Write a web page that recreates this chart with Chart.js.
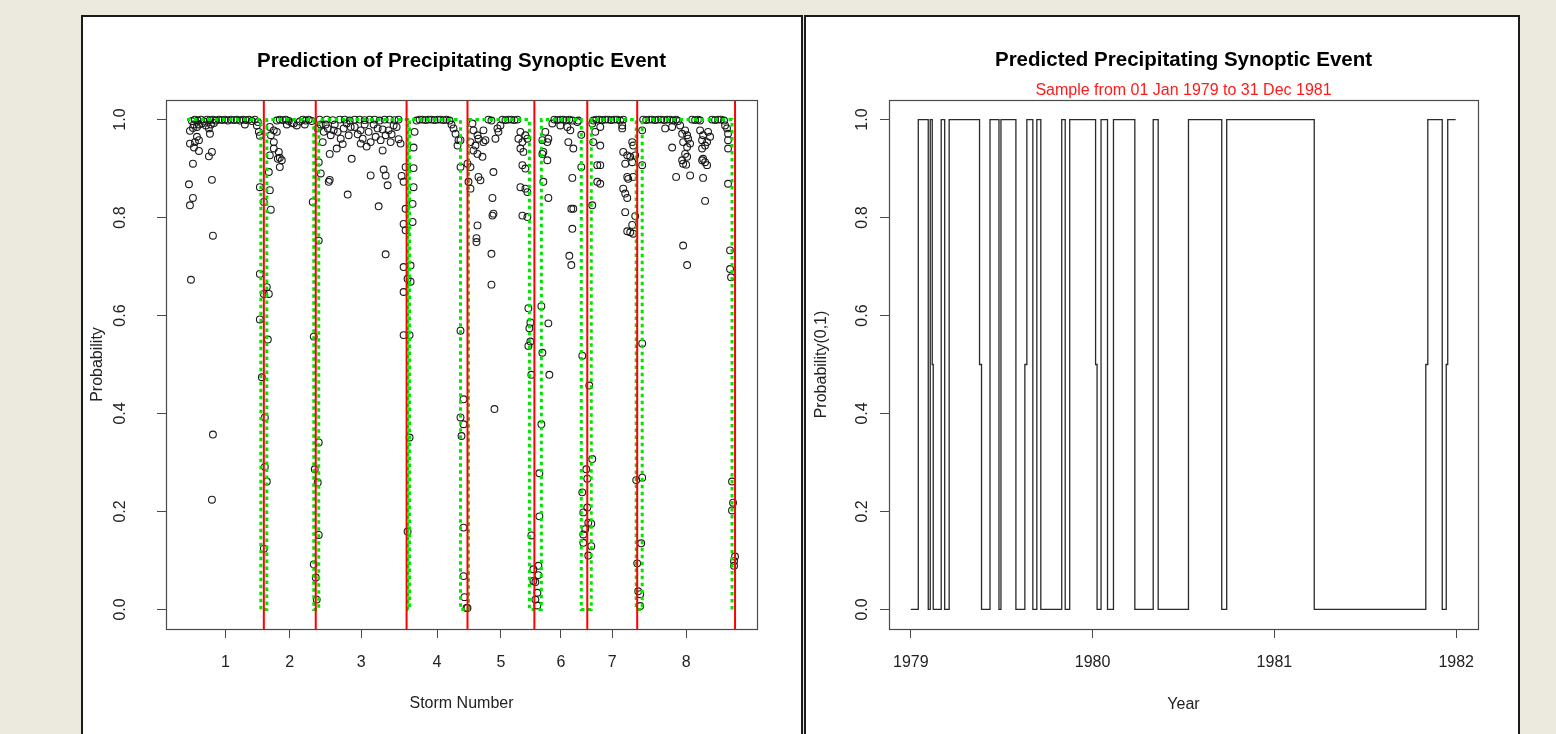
<!DOCTYPE html>
<html>
<head>
<meta charset="utf-8">
<title>Precipitating Synoptic Event</title>
<script src="https://cdn.jsdelivr.net/npm/chart.js@4.4.1/dist/chart.umd.min.js"></script>
<style>
  html, body { margin: 0; padding: 0; }
  body { width: 1556px; height: 734px; background: #ece9df; position: relative; overflow: hidden; }
  .panel { position: absolute; top: 15px; height: 740px; background: #fff; border: 2px solid #1b1b1b; box-sizing: border-box; }
  #leftPanel { left: 81px; width: 722px; }
  #rightPanel { left: 804px; width: 716px; }
  canvas { position: absolute; top: 17px; }
  #stormChart { left: 83px; }
  #yearChart { left: 806px; }
</style>
</head>
<body>
<div class="panel" id="leftPanel"></div>
<div class="panel" id="rightPanel"></div>
<canvas id="stormChart" width="718" height="717"></canvas>
<canvas id="yearChart" width="712" height="717"></canvas>

<script>
// ---------------------------------------------------------
// Left panel: predicted probability per observation, by storm
// x = observation index, y = probability
// ---------------------------------------------------------
const storm1 = [
  [5,0.997],[8,1],[11,0.998],[14,1],[17,0.996],[20,1],[23,0.999],[26,1],[29,0.998],[32,1],[35,0.999],[38,1],
  [41,0.998],[44,1],[47,0.999],[50,1],[53,0.998],[56,1],[59,0.999],[62,1],[65,0.997],[68,1],[71,0.995],
  [7,0.99],[10,0.985],[15,0.992],[19,0.988],[24,0.99],[27,0.993],
  [3,0.977],[6,0.983],[12,0.990],[10,0.965],[12,0.958],[8,0.954],[3,0.951],[7,0.943],[12,0.936],[23,0.971],
  [22,0.982],[25,0.934],[22,0.925],[6,0.910],[25,0.877],[2,0.868],[6,0.840],[3,0.825],[26,0.763],[4,0.673],
  [26,0.357],[25,0.224],[58,0.990],[70,0.988],[72,0.975],[73,0.967],[73,0.862],[73,0.685],[73,0.592],[75,0.474]
];
const storm2 = [
  [78,0.392],[78,0.291],[80,0.261],[77,0.124],[81,0.551],[80,0.658],[82,0.644],[77,0.644],[77,0.832],
  [83,0.985],[87,0.978],[90,0.975],[87,0.954],[87,0.941],[83,0.927],[92,0.934],[93,0.922],[95,0.917],
  [93,0.903],[82,0.893],[83,0.856],[84,0.816],[84,0.968],[91,0.920],[107,0.992],[110,0.988],[126,0.832],
  [90,0.998],[93,1],[96,0.999],[99,1],[102,0.997],[105,0.993],[113,0.996],[116,1],[119,0.998],[122,1],
  [125,0.997],[100,0.99],[118,0.99],
  [127,0.557],[132,0.341],[128,0.286],[131,0.259],[132,0.152],[127,0.092],[129,0.065],[130,0.020],
  [132,0.753],[132,0.913],[134,0.890],[131,0.982],[136,0.954]
];
const storm3 = [
  [137,0.975],[141,0.982],[144,0.968],[147,0.978],[151,0.975],[154,0.961],[157,0.982],[162,0.968],[164,0.985],
  [174,0.978],[176,0.961],[174,0.951],[182,0.975],[184,0.954],[191,0.982],[194,0.958],[196,0.937],[199,0.968],
  [202,0.978],[204,0.954],[207,0.988],[214,0.951],[143,0.930],[150,0.941],[165,0.920],[142,0.873],[143,0.877],
  [184,0.886],[197,0.898],[199,0.886],[201,0.866],[161,0.847],[192,0.823],[199,0.725],[215,0.885],[217,0.873],
  [219,0.903],[139,0.99],[148,0.99],[160,0.992],[168,0.985],[171,0.97],[178,0.99],[187,0.99],[189,0.965],
  [205,0.97],[210,0.985],[212,0.96],[134,0.99],[156,0.95],[180,0.945],[196,0.98],
  [133,1],[140,1],[146,0.999],[153,1],[158,1],[163,0.998],[168,1],[173,1],[178,0.999],[183,1],[188,1],
  [193,0.998],[198,1],[203,1],[208,0.999],[212,1],
  [219,0.818],[217,0.787],[219,0.774],[217,0.699],[221,0.675],[224,0.669],[217,0.648],[224,0.702],[226,0.791],
  [226,0.828],[227,0.862],[227,0.901],[227,0.943],[228,0.975],[217,0.560],[223,0.560],[223,0.351],[221,0.159]
];
const storm4 = [
  [230,0.998],[233,1],[236,1],[239,0.999],[242,1],[245,1],[248,0.999],[251,1],[254,1],[257,0.999],[260,1],
  [263,0.998],[265,0.99],[267,0.982],[269,0.971],[271,0.947],[274,0.903],[272,0.958],[274,0.958],
  [274,0.569],[277,0.429],[274,0.392],[277,0.378],[275,0.354],[277,0.167],[277,0.068],[278,0.025],
  [280,0.003],[281,0.003]
];
const storm5 = [
  [286,0.992],[287,0.978],[291,0.968],[284,0.954],[289,0.947],[287,0.937],[291,0.930],[296,0.924],[292,0.961],
  [297,0.978],[299,0.958],[297,0.954],[302,1],[305,0.998],[281,0.910],[284,0.903],[282,0.873],[284,0.859],
  [292,0.883],[294,0.876],[307,0.893],[306,0.840],[307,0.808],[306,0.804],[291,0.784],[290,0.758],[290,0.750],
  [305,0.726],[305,0.663],[308,0.409],[311,0.982],[309,0.961],[312,0.975],[314,0.988],
  [316,1],[319,0.999],[322,1],[325,1],[328,0.999],[331,1],
  [334,0.975],[332,0.961],[336,0.954],[334,0.941],[337,0.934],[336,0.907],[339,0.900],[334,0.862],[339,0.859],
  [341,0.852],[336,0.804],[341,0.801],[339,0.968],[341,0.961],
  [342,0.615],[344,0.586],[343,0.574],[344,0.547],[342,0.538],[345,0.479],[355,0.619],[362,0.584],[356,0.524],
  [363,0.479],[355,0.378],[353,0.278],[353,0.190],[345,0.151],[352,0.089],[347,0.082],[352,0.070],[347,0.058],
  [349,0.056],[351,0.034],[349,0.020],[351,0.008]
];
const storm6 = [
  [356,0.958],[359,0.975],[357,0.934],[356,0.930],[361,0.954],[362,0.961],[361,0.917],[357,0.873],[362,0.840],
  [366,0.992],[368,1],[371,0.999],[374,1],[377,1],[380,0.999],[383,1],[386,0.998],
  [374,0.988],[381,0.985],[384,0.978],[382,0.954],[387,0.941],[386,0.881],[387,0.818],[385,0.818],[386,0.777],
  [383,0.722],[385,0.703],[391,0.995],[392,0.998],[395,0.969],[395,0.903],
  [396,0.518],[403,0.457],[406,0.307],[400,0.286],[401,0.267],[396,0.239],[401,0.208],[397,0.198],[402,0.177],
  [405,0.175],[399,0.164],[397,0.153],[397,0.136],[405,0.129],[402,0.110]
];
const storm7 = [
  [406,0.992],[409,0.975],[407,0.954],[411,0.907],[411,0.873],[406,0.825],
  [407,0.998],[410,1],[413,1],[416,0.999],[419,1],[422,1],[425,0.999],[428,1],[431,1],[434,0.998],[437,1],
  [414,0.985],[414,0.947],[414,0.907],[414,0.869],[436,0.988],[436,0.982],[446,0.954],[447,0.947],[437,0.934],
  [441,0.927],[444,0.924],[439,0.910],[446,0.913],[441,0.883],[442,0.879],[447,0.883],[437,0.859],[439,0.849],
  [441,0.840],[439,0.811],[449,0.803],[446,0.785],[441,0.772],[444,0.770],[447,0.767],[449,0.927],
  [450,0.264],[456,0.269],[455,0.135],[451,0.094],[452,0.037],[454,0.031],[454,0.007],[456,0.543],[456,0.978],
  [456,0.907]
];
const storm8 = [
  [457,1],[460,0.999],[463,1],[466,1],[469,0.999],[472,1],[475,1],[478,0.999],[481,1],[484,1],[487,0.998],
  [490,1],[492,0.997],[506,1],[509,0.999],[512,1],[514,0.998],[526,1],[529,0.999],[532,1],[535,1],[538,0.998],
  [479,0.982],[486,0.985],[494,0.988],[496,0.971],[499,0.978],[501,0.968],[497,0.954],[502,0.961],[504,0.951],
  [501,0.944],[499,0.930],[501,0.924],[496,0.917],[497,0.910],[500,0.908],[486,0.943],[490,0.883],[504,0.886],
  [514,0.978],[517,0.968],[516,0.958],[521,0.954],[516,0.941],[519,0.947],[517,0.920],[516,0.917],[519,0.913],
  [521,0.907],[517,0.881],[522,0.975],[524,0.965],[519,0.834],[539,0.988],[541,0.982],[542,0.971],[542,0.958],
  [542,0.941],[542,0.869],[497,0.743],[501,0.703],[544,0.733],[544,0.695],[545,0.678],[546,0.261],[547,0.218],
  [546,0.202],[549,0.108],[548,0.099],[548,0.089]
];

// observed event (green dotted), as change points [index, value]
const eventSteps = [
  [0,1],[74,0],[80,1],[127,0],[132,1],[221,0],[223,1],[274,0],[282,1],[343,0],[355,1],
  [395,0],[405,1],[450,0],[456,1],[546,0]
];
// storm boundaries (red lines) and storm-number tick positions
const stormBreaks = [77, 129, 220, 281, 348, 401, 451, 549];
const stormTickAt = [38.5, 103, 174.5, 250.5, 314.5, 374.5, 426, 500];
const stormLabels = ['1', '2', '3', '4', '5', '6', '7', '8'];
const probTicks = [0, 0.2, 0.4, 0.6, 0.8, 1.0];

// ---------------------------------------------------------
// Right panel: event sample, change dates [date, value]
// ---------------------------------------------------------
const eventChanges = [
  ['1979-01-01',0],['1979-01-16',1],['1979-02-05',0],['1979-02-09',1],['1979-02-13',0.5],['1979-02-15',0],
  ['1979-03-03',1],['1979-03-10',0],['1979-03-19',1],['1979-05-19',0.5],['1979-05-23',0],['1979-06-09',1],
  ['1979-06-27',0],['1979-07-01',1],['1979-07-31',0],['1979-08-18',0.5],['1979-08-22',1],['1979-09-03',0],
  ['1979-09-11',1],['1979-09-19',0],['1979-10-31',1],['1979-11-07',0],['1979-11-16',1],['1980-01-07',0.5],
  ['1980-01-10',0],['1980-01-18',1],['1980-01-31',0],['1980-02-12',1],['1980-03-26',0],['1980-05-02',1],
  ['1980-05-12',0],['1980-07-12',1],['1980-09-17',0],['1980-09-27',1],['1981-03-22',0],['1981-11-01',0.5],
  ['1981-11-05',1],['1981-12-04',0],['1981-12-12',0.5],['1981-12-15',1],['1981-12-31',1]
];
const yearTicks = [1979, 1980, 1981, 1982];

// date string -> decimal year
function decYear(s) {
  const [y, m, d] = s.split('-').map(Number);
  const start = Date.UTC(y, 0, 1);
  const next = Date.UTC(y + 1, 0, 1);
  return y + (Date.UTC(y, m - 1, d) - start) / (next - start);
}

Chart.defaults.font.family = '"Liberation Sans", Arial, sans-serif';
Chart.defaults.font.size = 16;
Chart.defaults.color = '#222';
Chart.defaults.animation = false;

// R-style box around the plotting region
const plotBox = {
  id: 'plotBox',
  afterDatasetsDraw(chart) {
    const { ctx, chartArea: a } = chart;
    ctx.save();
    ctx.strokeStyle = '#4a4a4a';
    ctx.lineWidth = 1.2;
    ctx.strokeRect(Math.round(a.left) + 0.5, Math.round(a.top) + 0.5,
      Math.round(a.right - a.left), Math.round(a.bottom - a.top));
    ctx.restore();
  }
};

const axisGrid = { drawOnChartArea: false, drawTicks: true, tickLength: 9, color: '#4a4a4a', lineWidth: 1 };

const pts = [].concat(storm1, storm2, storm3, storm4, storm5, storm6, storm7, storm8)
  .map(([x, p]) => ({ x: x, y: p }));

const breakSets = stormBreaks.map(b => ({
  data: [{ x: b, y: -0.04 }, { x: b, y: 1.04 }],
  showLine: true, borderColor: '#ff0000', borderWidth: 2, pointRadius: 0, order: 1
}));

new Chart(document.getElementById('stormChart'), {
  type: 'scatter',
  data: {
    datasets: [
      {
        data: pts, showLine: false, pointRadius: 3.4, pointBorderWidth: 1.1,
        pointBorderColor: '#1a1a1a', pointBackgroundColor: 'rgba(0,0,0,0)', order: 3
      },
      {
        data: eventSteps.map(([x, v]) => ({ x: x, y: v })), showLine: true, stepped: true,
        borderColor: '#00e600', borderWidth: 3, borderDash: [3.5, 3.5], pointRadius: 0, order: 2
      },
      ...breakSets
    ]
  },
  options: {
    responsive: false,
    events: [],
    layout: { padding: { left: 0, top: 0, right: 44, bottom: 0 } },
    plugins: {
      legend: { display: false },
      tooltip: { enabled: false },
      title: {
        display: true, fullSize: false, text: 'Prediction of Precipitating Synoptic Event',
        color: '#000', font: { size: 20.5, weight: 'bold' }, padding: { top: 32, bottom: 26.4 }
      }
    },
    scales: {
      x: {
        type: 'linear', min: -21, max: 571,
        afterBuildTicks: s => { s.ticks = stormTickAt.map(v => ({ value: v })); },
        afterFit: s => { s.height = 105; },
        ticks: { padding: 15, maxRotation: 0, autoSkip: false, callback: (v, i) => stormLabels[i] },
        grid: axisGrid,
        border: { display: false },
        title: { display: true, text: 'Storm Number', padding: { top: 0, bottom: 21 } }
      },
      y: {
        min: -0.04, max: 1.04,
        afterBuildTicks: s => { s.ticks = probTicks.map(v => ({ value: v })); },
        afterFit: s => { s.width = 83; },
        ticks: { minRotation: 90, maxRotation: 90, crossAlign: 'center', padding: 25, callback: v => v.toFixed(1) },
        grid: axisGrid,
        border: { display: false },
        title: { display: true, text: 'Probability', padding: { top: 5, bottom: 0 } }
      }
    }
  },
  plugins: [plotBox]
});

new Chart(document.getElementById('yearChart'), {
  type: 'scatter',
  data: {
    datasets: [{
      data: eventChanges.map(([d, v]) => ({ x: decYear(d), y: v })),
      showLine: true, stepped: true, borderColor: '#2a2a2a', borderWidth: 1.3, pointRadius: 0
    }]
  },
  options: {
    responsive: false,
    events: [],
    layout: { padding: { left: 0, top: 0, right: 40, bottom: 0 } },
    plugins: {
      legend: { display: false },
      tooltip: { enabled: false },
      title: {
        display: true, fullSize: false, text: 'Predicted Precipitating Synoptic Event',
        color: '#000', font: { size: 20.5, weight: 'bold' }, padding: { top: 31, bottom: 8.2 }
      },
      subtitle: {
        display: true, fullSize: false, text: 'Sample from 01 Jan 1979 to 31 Dec 1981',
        color: '#ff1a1a', font: { size: 16 }, padding: { top: 0, bottom: 0 }
      }
    },
    scales: {
      x: {
        type: 'linear', min: 1978.88, max: 1982.12,
        afterBuildTicks: s => { s.ticks = yearTicks.map(v => ({ value: v })); },
        afterFit: s => { s.height = 105; },
        ticks: { padding: 15, maxRotation: 0, autoSkip: false, callback: v => String(v) },
        grid: axisGrid,
        border: { display: false },
        title: { display: true, text: 'Year', padding: { top: 0, bottom: 20 } }
      },
      y: {
        min: -0.04, max: 1.04,
        afterBuildTicks: s => { s.ticks = probTicks.map(v => ({ value: v })); },
        afterFit: s => { s.width = 83; },
        ticks: { minRotation: 90, maxRotation: 90, crossAlign: 'center', padding: 6, callback: v => v.toFixed(1) },
        grid: axisGrid,
        border: { display: false },
        title: { display: true, text: 'Probability(0,1)', padding: { top: 6, bottom: 0 } }
      }
    }
  },
  plugins: [plotBox]
});
</script>
</body>
</html>
